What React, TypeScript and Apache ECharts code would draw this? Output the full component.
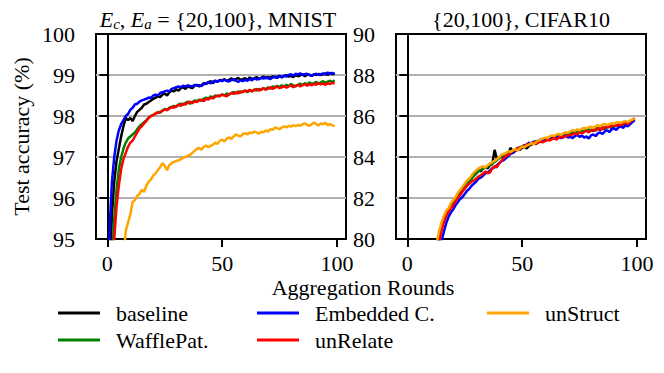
import React, { useEffect, useRef } from "react";
import * as echarts from "echarts";

const rounds: number[] = Array.from({ length: 100 }, (_, i) => i);
const seriesNames = ["baseline", "WafflePat.", "Embedded C.", "unRelate", "unStruct"];
const colors = ["#000000", "#008000", "#0000ff", "#ff0000", "#ffa500"];
const xTicks = [0, 50, 100];

// MNIST accuracies (%)
const mnistBaseline = [
  90.5, 94.2, 95.6, 96.4, 96.9, 97.2, 97.5, 97.75, 97.95, 97.9,
  97.95, 97.88, 98.0, 98.1, 98.15, 98.2, 98.28, 98.3, 98.34, 98.38,
  98.42, 98.45, 98.48, 98.46, 98.52, 98.55, 98.5, 98.58, 98.62, 98.6,
  98.65, 98.62, 98.68, 98.7, 98.66, 98.72, 98.7, 98.68, 98.74, 98.76,
  98.72, 98.75, 98.8, 98.78, 98.82, 98.85, 98.8, 98.86, 98.84, 98.88,
  98.86, 98.9, 98.85, 98.88, 98.92, 98.87, 98.9, 98.93, 98.88, 98.9,
  98.92, 98.88, 98.94, 98.9, 98.92, 98.95, 98.9, 98.93, 98.96, 98.92,
  98.95, 98.93, 98.97, 98.94, 98.96, 98.98, 98.94, 98.97, 99.0, 98.96,
  98.98, 98.95, 99.0, 98.97, 98.99, 99.02, 98.97, 99.0, 99.01, 98.98,
  99.02, 99.0, 99.03, 99.0, 99.02, 99.04, 99.0, 99.05, 99.02, 99.03,
];
const mnistWaffle = [
  89.5, 92.5, 94.5, 95.5, 96.2, 96.7, 97.0, 97.2, 97.35, 97.45,
  97.5, 97.55, 97.6, 97.68, 97.75, 97.8, 97.85, 97.9, 97.96, 98.0,
  98.03, 98.06, 98.1, 98.08, 98.14, 98.17, 98.15, 98.2, 98.22, 98.25,
  98.22, 98.28, 98.3, 98.27, 98.32, 98.35, 98.3, 98.34, 98.38, 98.36,
  98.4, 98.37, 98.42, 98.45, 98.42, 98.48, 98.45, 98.5, 98.48, 98.5,
  98.53, 98.5, 98.55, 98.52, 98.56, 98.58, 98.55, 98.6, 98.57, 98.6,
  98.62, 98.58, 98.63, 98.6, 98.65, 98.62, 98.66, 98.63, 98.68, 98.65,
  98.7, 98.67, 98.72, 98.7, 98.74, 98.7, 98.75, 98.72, 98.76, 98.73,
  98.78, 98.75, 98.72, 98.76, 98.79, 98.75, 98.8, 98.77, 98.82, 98.78,
  98.8, 98.83, 98.79, 98.82, 98.85, 98.81, 98.84, 98.86, 98.83, 98.87,
];
const mnistEmbedded = [
  91.5, 95.3, 96.4, 97.0, 97.4, 97.65, 97.8, 97.9, 98.0, 98.05,
  98.15, 98.2, 98.28, 98.3, 98.35, 98.38, 98.4, 98.42, 98.45, 98.44,
  98.5, 98.52, 98.5, 98.56, 98.58, 98.6, 98.62, 98.6, 98.66, 98.68,
  98.7, 98.72, 98.7, 98.74, 98.72, 98.75, 98.73, 98.72, 98.76, 98.74,
  98.75, 98.73, 98.78, 98.8, 98.82, 98.8, 98.84, 98.86, 98.83, 98.87,
  98.85, 98.88, 98.86, 98.84, 98.88, 98.9, 98.86, 98.83, 98.87, 98.85,
  98.88, 98.86, 98.9, 98.87, 98.92, 98.89, 98.9, 98.93, 98.91, 98.95,
  98.92, 98.9, 98.94, 98.96, 98.93, 98.97, 98.95, 98.99, 98.96, 99.0,
  99.02, 98.98, 99.03, 99.01, 99.04, 99.0, 99.02, 99.03, 99.0, 98.98,
  99.01, 99.03, 99.0, 99.02, 99.04, 99.01, 99.06, 99.03, 99.05, 99.02,
];
const mnistUnRelate = [
  88.5, 91.5, 93.5, 95.0, 95.8, 96.3, 96.7, 96.95, 97.1, 97.25,
  97.35, 97.4, 97.5, 97.6, 97.7, 97.75, 97.82, 97.88, 97.95, 98.0,
  98.02, 98.06, 98.08, 98.1, 98.12, 98.16, 98.14, 98.18, 98.22, 98.2,
  98.24, 98.27, 98.25, 98.3, 98.28, 98.32, 98.35, 98.31, 98.36, 98.34,
  98.38, 98.4, 98.36, 98.42, 98.4, 98.45, 98.43, 98.47, 98.5, 98.48,
  98.52, 98.5, 98.48, 98.53, 98.56, 98.54, 98.58, 98.55, 98.6, 98.58,
  98.62, 98.6, 98.64, 98.6, 98.63, 98.66, 98.62, 98.65, 98.68, 98.64,
  98.67, 98.7, 98.66, 98.69, 98.72, 98.68, 98.7, 98.73, 98.69, 98.72,
  98.75, 98.7, 98.74, 98.76, 98.72, 98.75, 98.78, 98.74, 98.77, 98.75,
  98.79, 98.76, 98.8, 98.77, 98.79, 98.76, 98.8, 98.78, 98.81, 98.79,
];
const mnistUnStruct = [
  85.0, 87.0, 88.5, 90.0, 91.5, 92.5, 93.5, 94.5, 95.2, 95.4,
  95.6, 95.9, 95.95, 96.05, 96.1, 96.2, 96.15, 96.3, 96.4, 96.45,
  96.55, 96.6, 96.68, 96.75, 96.85, 96.78, 96.68, 96.8, 96.85, 96.88,
  96.9, 96.92, 96.95, 96.98, 97.0, 97.03, 97.05, 97.1, 97.15, 97.2,
  97.22, 97.18, 97.25, 97.28, 97.24, 97.27, 97.3, 97.35, 97.32, 97.4,
  97.42, 97.38, 97.45, 97.48, 97.44, 97.5, 97.55, 97.52, 97.5, 97.56,
  97.58, 97.55, 97.6, 97.58, 97.62, 97.6, 97.57, 97.62, 97.6, 97.65,
  97.62, 97.68, 97.66, 97.72, 97.7, 97.68, 97.72, 97.75, 97.72, 97.76,
  97.74, 97.78, 97.75, 97.78, 97.76, 97.8, 97.82, 97.78, 97.76, 97.8,
  97.84, 97.8, 97.77, 97.82, 97.8, 97.83, 97.78, 97.8, 97.77, 97.75,
];

// CIFAR10 accuracies (%)
const cifarBaseline = [
  30, 45, 55, 61, 66, 69.5, 72, 74, 75.6, 76.9,
  77.9, 78.7, 79.2, 79.7, 80.25, 80.75, 81.05, 81.3, 81.45, 81.6,
  81.75, 81.95, 82.1, 82.25, 82.35, 82.55, 82.7, 82.8, 82.95, 83.1,
  83.2, 83.35, 83.3, 83.45, 83.5, 83.45, 83.6, 83.65, 84.35, 83.9,
  83.95, 84.0, 84.1, 84.05, 84.2, 84.45, 84.2, 84.3, 84.4, 84.35,
  84.45, 84.5, 84.42, 84.55, 84.6, 84.7, 84.62, 84.75, 84.8, 84.72,
  84.85, 84.9, 84.82, 84.95, 84.9, 85.0, 84.95, 85.05, 85.1, 85.02,
  85.12, 85.08, 85.15, 85.2, 85.12, 85.22, 85.18, 85.25, 85.3, 85.22,
  85.32, 85.28, 85.35, 85.4, 85.32, 85.42, 85.38, 85.45, 85.5, 85.42,
  85.5, 85.55, 85.48, 85.58, 85.62, 85.55, 85.65, 85.7, 85.75, 85.85,
];
const cifarWaffle = [
  29, 44, 54, 61, 65.5, 69, 71.5, 73.5, 75.2, 76.6,
  77.6, 78.5, 79.0, 79.5, 80.05, 80.55, 80.95, 81.2, 81.4, 81.55,
  81.7, 81.9, 82.05, 82.2, 82.35, 82.5, 82.65, 82.8, 82.95, 83.1,
  83.2, 83.3, 83.38, 83.45, 83.5, 83.55, 83.62, 83.7, 83.75, 83.85,
  83.95, 84.05, 84.1, 84.15, 84.22, 84.3, 84.28, 84.35, 84.42, 84.48,
  84.52, 84.58, 84.55, 84.62, 84.68, 84.72, 84.78, 84.75, 84.82, 84.88,
  84.85, 84.92, 84.98, 84.95, 85.02, 85.05, 85.0, 85.08, 85.12, 85.1,
  85.15, 85.2, 85.25, 85.18, 85.22, 85.28, 85.3, 85.25, 85.32, 85.35,
  85.3, 85.38, 85.42, 85.36, 85.4, 85.45, 85.42, 85.48, 85.52, 85.46,
  85.5, 85.55, 85.58, 85.52, 85.6, 85.65, 85.6, 85.68, 85.72, 85.78,
];
const cifarEmbedded = [
  28, 43, 53, 60, 65, 68.5, 71, 73, 74.7, 76,
  77.1, 78, 78.5, 79.0, 79.5, 79.95, 80.4, 80.8, 81.1, 81.3,
  81.45, 81.65, 81.8, 81.95, 82.05, 82.2, 82.35, 82.45, 82.6, 82.7,
  82.8, 82.95, 83.0, 83.1, 83.2, 83.25, 83.35, 83.45, 83.5, 83.6,
  83.7, 83.8, 83.85, 83.95, 84.05, 84.15, 84.2, 84.3, 84.35, 84.45,
  84.5, 84.55, 84.6, 84.7, 84.65, 84.75, 84.7, 84.8, 84.85, 84.78,
  84.88, 84.82, 84.9, 84.95, 84.88, 84.95, 85.0, 84.92, 84.98, 85.05,
  84.95, 85.0, 84.92, 85.02, 85.08, 84.98, 85.05, 84.95, 85.0, 84.9,
  85.05, 85.1, 85.02, 85.15, 85.2, 85.12, 85.25, 85.3, 85.22, 85.35,
  85.4, 85.32, 85.45, 85.5, 85.42, 85.55, 85.5, 85.6, 85.7, 85.8,
];
const cifarUnRelate = [
  29, 44, 54, 60.5, 65.5, 69, 71.5, 73.5, 75.1, 76.5,
  77.5, 78.4, 78.9, 79.4, 79.95, 80.45, 80.85, 81.15, 81.35, 81.5,
  81.65, 81.85, 82.0, 82.15, 82.3, 82.45, 82.6, 82.7, 82.8, 82.85,
  82.95, 83.05, 83.1, 83.2, 83.3, 83.2, 83.25, 83.45, 83.55, 83.5,
  83.7, 83.8, 83.95, 84.05, 84.1, 84.2, 84.3, 84.35, 84.45, 84.4,
  84.5, 84.55, 84.62, 84.6, 84.68, 84.72, 84.65, 84.7, 84.75, 84.72,
  84.78, 84.85, 84.8, 84.88, 84.92, 84.85, 84.95, 85.0, 84.95, 85.02,
  85.08, 85.05, 85.1, 85.15, 85.1, 85.2, 85.15, 85.22, 85.28, 85.2,
  85.3, 85.35, 85.28, 85.38, 85.42, 85.35, 85.45, 85.5, 85.45, 85.52,
  85.58, 85.5, 85.6, 85.55, 85.62, 85.68, 85.6, 85.72, 85.8, 85.9,
];
const cifarUnStruct = [
  31, 46, 56, 62, 66.5, 70, 72.5, 74.5, 76, 77.3,
  78.3, 79.1, 79.5, 79.95, 80.45, 80.85, 81.15, 81.4, 81.5, 81.75,
  81.9, 82.05, 82.25, 82.4, 82.55, 82.7, 82.85, 82.95, 83.1, 83.25,
  83.35, 83.45, 83.5, 83.55, 83.48, 83.6, 83.68, 83.75, 83.82, 83.9,
  83.98, 84.1, 84.15, 84.2, 84.28, 84.25, 84.32, 84.38, 84.3, 84.42,
  84.5, 84.48, 84.55, 84.6, 84.68, 84.62, 84.72, 84.8, 84.85, 84.9,
  84.95, 84.92, 85.0, 85.05, 85.02, 85.1, 85.12, 85.08, 85.15, 85.2,
  85.18, 85.25, 85.3, 85.28, 85.35, 85.3, 85.38, 85.42, 85.4, 85.45,
  85.48, 85.42, 85.5, 85.55, 85.5, 85.58, 85.62, 85.55, 85.6, 85.65,
  85.62, 85.68, 85.7, 85.66, 85.72, 85.75, 85.7, 85.78, 85.82, 85.88,
];

const mnistData = [mnistBaseline, mnistWaffle, mnistEmbedded, mnistUnRelate, mnistUnStruct];
const cifarData = [cifarBaseline, cifarWaffle, cifarEmbedded, cifarUnRelate, cifarUnStruct];

const FONT = "'Liberation Serif', serif";
const FS = 22;

export default function App() {
  const ref = useRef<HTMLDivElement>(null);
  useEffect(() => {
    if (!ref.current) return;
    const chart = echarts.init(ref.current, undefined, { renderer: "svg" });
    const textStyle = { fontFamily: FONT, fontSize: FS, color: "#000" };
    const mkX = (gi: number) => ({
      type: "value",
      gridIndex: gi,
      min: -4.95,
      max: 103.95,
      axisLine: { show: true, onZero: false, lineStyle: { color: "#000", width: 2 } },
      axisTick: { show: true, customValues: xTicks, length: 8, lineStyle: { color: "#000", width: 2 } },
      axisLabel: { customValues: xTicks, margin: 13, ...textStyle },
      splitLine: { show: false },
    });
    const mkY = (gi: number, min: number, max: number, interval: number, name: string) => ({
      type: "value",
      gridIndex: gi,
      min,
      max,
      interval,
      name,
      nameLocation: "middle",
      nameGap: 64,
      nameRotate: 90,
      nameTextStyle: textStyle,
      axisLine: { show: true, lineStyle: { color: "#000", width: 2 } },
      axisTick: { show: true, length: 8, lineStyle: { color: "#000", width: 2 } },
      axisLabel: { margin: 21, ...textStyle },
      splitLine: { show: true, showMinLine: false, showMaxLine: false, lineStyle: { color: "#b0b0b0", width: 2 } },
    });
    const series: any[] = [];
    [mnistData, cifarData].forEach((set, gi) => {
      set.forEach((vals, si) => {
        series.push({
          type: "line",
          name: seriesNames[si],
          xAxisIndex: gi,
          yAxisIndex: gi,
          data: rounds.map((r, i) => [r, vals[i]]),
          showSymbol: false,
          symbol: "none",
          clip: true,
          color: colors[si],
          lineStyle: { color: colors[si], width: 2.5 },
          z: 3 + si,
        });
      });
    });
    const legendBase = {
      orient: "vertical",
      icon: "rect",
      itemWidth: 42,
      itemHeight: 3,
      itemGap: 5,
      padding: 0,
      top: 302,
      selectedMode: false,
      textStyle: { ...textStyle, lineHeight: 22, padding: [0, 0, 0, 11] },
    };
    chart.setOption({
      animation: false,
      backgroundColor: "#fff",
      textStyle: { fontFamily: FONT },
      grid: [
        { left: 96, top: 34, width: 250, height: 205, show: true, borderColor: "#000", borderWidth: 2, backgroundColor: "transparent" },
        { left: 396, top: 34, width: 250, height: 205, show: true, borderColor: "#000", borderWidth: 2, backgroundColor: "transparent" },
      ],
      xAxis: [mkX(0), mkX(1)],
      yAxis: [mkY(0, 95, 100, 1, "Test accuracy (%)"), mkY(1, 80, 90, 2, "")],
      legend: [
        { ...legendBase, left: 58, data: [seriesNames[0], seriesNames[1]] },
        { ...legendBase, left: 257, data: [seriesNames[2], seriesNames[3]] },
        { ...legendBase, left: 487, data: [seriesNames[4]] },
      ],
      graphic: [
        {
          type: "text",
          x: 218,
          y: 19,
          style: {
            text: "{i|E}{s|c}, {i|E}{s|a} = {20,100}, MNIST",
            align: "center",
            verticalAlign: "middle",
            fontFamily: FONT,
            fontSize: FS,
            fill: "#000",
            rich: {
              i: { fontFamily: FONT, fontSize: FS, fontStyle: "italic", fill: "#000" },
              s: { fontFamily: FONT, fontSize: 15, fontStyle: "italic", fill: "#000", verticalAlign: "bottom", padding: [9, 0, 0, 0] },
            },
          },
        },
        {
          type: "text",
          x: 521,
          y: 19,
          style: { text: "{20,100}, CIFAR10", align: "center", verticalAlign: "middle", fontFamily: FONT, fontSize: FS, fill: "#000" },
        },
        {
          type: "text",
          x: 363,
          y: 287,
          style: { text: "Aggregation Rounds", align: "center", verticalAlign: "middle", fontFamily: FONT, fontSize: FS, fill: "#000" },
        },
      ],
      series,
    });
    return () => chart.dispose();
  }, []);
  return <div ref={ref} style={{ position: "fixed", left: 0, top: 0, width: 664, height: 373 }} />;
}
